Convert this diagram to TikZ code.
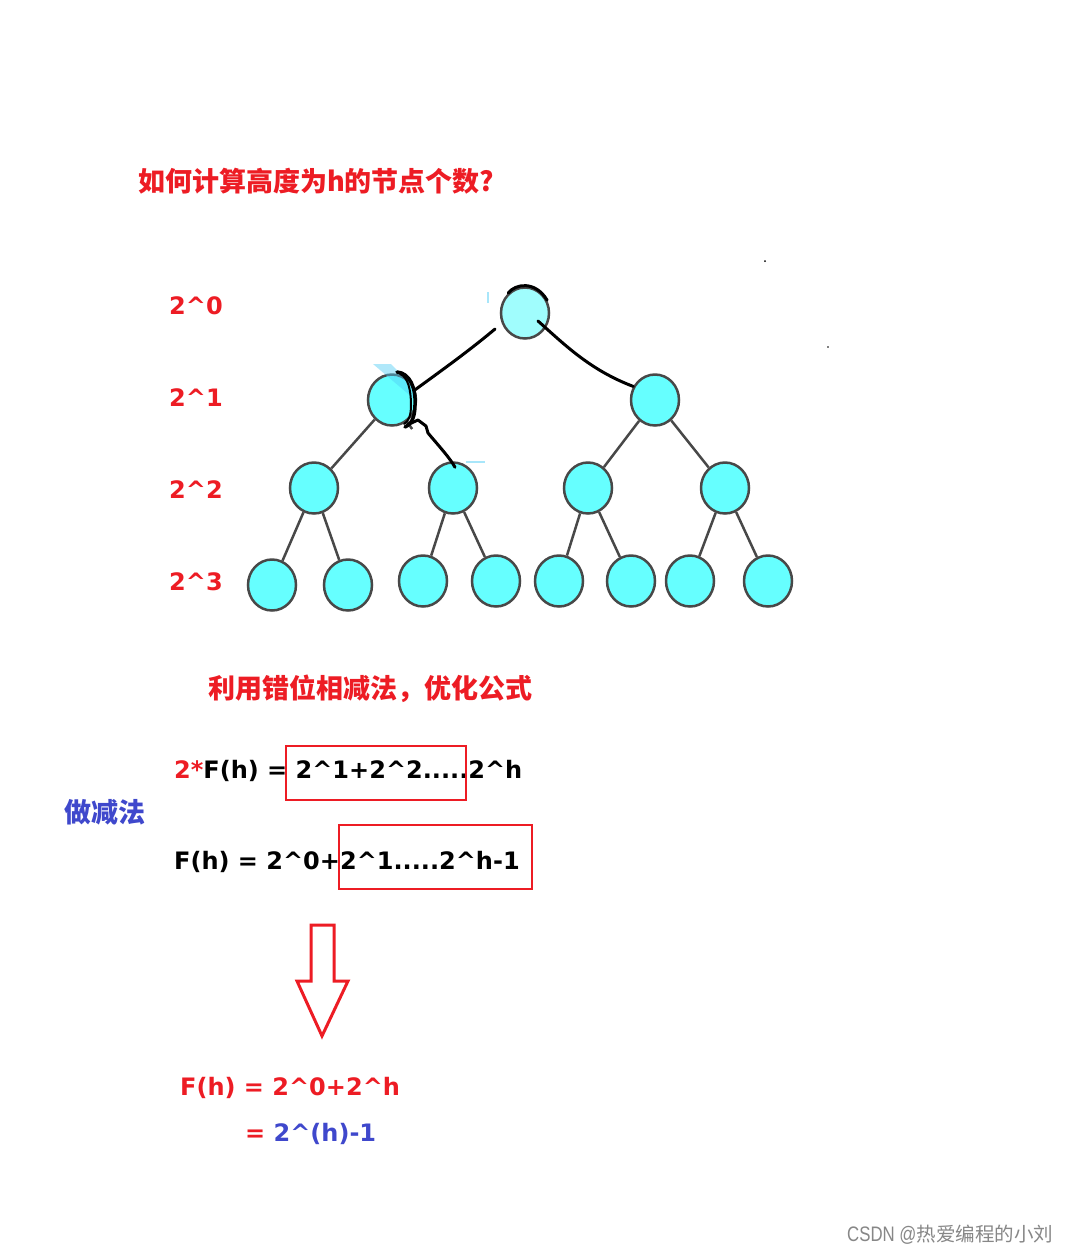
\documentclass[tikz,border=0pt]{standalone}
\usepackage{fontspec}
\setmainfont{DejaVu Sans}
\newfontfamily\cjk{Noto Sans CJK SC}
\newfontfamily\wmfont{Liberation Sans}[FakeStretch=0.8]
\usetikzlibrary{shapes.geometric,calc}
\definecolor{pred}{RGB}{237,28,36}
\definecolor{pblue}{RGB}{63,72,204}
\definecolor{cyanfill}{RGB}{102,255,255}
\definecolor{rootfill}{RGB}{160,253,253}
\definecolor{edgegray}{RGB}{72,72,72}
\definecolor{ltblue}{RGB}{80,205,245}
\definecolor{wmgray}{RGB}{135,135,135}
\newcommand\cc{\textasciicircum}
\begin{document}
\begin{tikzpicture}[x=1pt,y=-1pt,
  tnode/.style={ellipse, draw=edgegray, line width=2.5pt, fill=cyanfill,
    minimum width=48pt, minimum height=51pt, inner sep=0pt},
  edge/.style={draw=edgegray, line width=2.5pt},
  pen/.style={draw=black, line width=3pt, line cap=round, line join=round},
  lbl/.style={anchor=base west, inner sep=0pt, font=\fontsize{24}{28}\selectfont\bfseries, text=pred},
  cjkt/.style={anchor=base west, inner sep=0pt, font=\fontsize{27}{32}\selectfont\cjk\bfseries},
  redbox/.style={draw=pred, line width=2.5pt}
]
\useasboundingbox[fill=white] (0,0) rectangle (1073,1254);

% title
\node[cjkt, text=pred] (title) at (138,191) {如何计算高度为h的节点个数?};

% level labels
\node[lbl] (e0) at (169,314) {2\cc0};
\node[lbl] (e1) at (169,406) {2\cc1};
\node[lbl] (e2) at (169,498) {2\cc2};
\node[lbl] (e3) at (169,590) {2\cc3};

% tree nodes
\node[tnode, fill=rootfill] (root) at (525,313) {};
\node[tnode] (l1a) at (392,400) {};
\node[tnode] (l1b) at (655,400) {};
\node[tnode] (l2a) at (314,488) {};
\node[tnode] (l2b) at (453,488) {};
\node[tnode] (l2c) at (588,488) {};
\node[tnode] (l2d) at (725,488) {};
\node[tnode] (l3a) at (272,585) {};
\node[tnode] (l3b) at (348,585) {};
\node[tnode] (l3c) at (423,581) {};
\node[tnode] (l3d) at (496,581) {};
\node[tnode] (l3e) at (559,581) {};
\node[tnode] (l3f) at (631,581) {};
\node[tnode] (l3g) at (690,581) {};
\node[tnode] (l3h) at (768,581) {};

% gray edges
\draw[edge] (l1a) -- (l2a);
\draw[edge] (l1a) -- ($(l1a)!0.33!(l2b)$);
\draw[edge] (l1b) -- (l2c);
\draw[edge] (l1b) -- (l2d);
\draw[edge] (l2a) -- (l3a);
\draw[edge] (l2a) -- (l3b);
\draw[edge] (l2b) -- (l3c);
\draw[edge] (l2b) -- (l3d);
\draw[edge] (l2c) -- (l3e);
\draw[edge] (l2c) -- (l3f);
\draw[edge] (l2d) -- (l3g);
\draw[edge] (l2d) -- (l3h);

% light blue artefacts
\fill[ltblue, opacity=0.45] (373,364) -- (391,364) -- (413,386) -- (413,398) -- cycle;
\draw[ltblue!50, line width=1.5pt] (488,292) -- (488,303);
\draw[ltblue!50, line width=2pt] (466,462) -- (485,462);
\fill[black] (765,261) circle (1);
\fill[black] (828,347) circle (0.8);

% hand drawn strokes
\draw[pen] (root.130) .. controls (515,284) and (535,280) .. (root.30);
\draw[pen] ($(root.center)+(-30,16)$) .. controls (470,350) and (445,368) .. (l1a.24);
\draw[pen] ($(root.center)+(13,8)$) .. controls (565,345) and (590,370) .. (l1b.148);
\draw[pen, line width=3.5pt] (397,372) .. controls (410,373) and (416,388) .. (415,405)
  .. controls (415,416) and (412,424) .. (405,427);
\draw[pen, line width=2pt] (400,374) .. controls (408,377) and (411,390) .. (411,405)
  .. controls (411,415) and (409,421) .. (404,424);
\draw[pen] (407,425) -- (418,420) -- (426,426) -- (428,433)
  .. controls (438,445) and (450,458) .. ($(l2b.north)+(2,6)$);

% subtitle
\node[cjkt, text=pred] (sub) at (208,698) {利用错位相减法，优化公式};

% equations
\node[lbl, text=black] (eq1) at (174,778) {\textcolor{pred}{2*}F(h) = 2\cc1+2\cc2.....2\cc h};
\node[cjkt, text=pblue] (minus) at (64,822) {做减法};
\node[lbl, text=black] (eq2) at (174,869) {F(h) = 2\cc0+2\cc1.....2\cc h-1};
\draw[redbox] (286,746) rectangle (466,800);
\draw[redbox] (339,825) rectangle (532,889);

% hollow arrow
\draw[draw=pred, line width=3pt, line join=miter]
  (311,925) -- (334,925) -- (334,981) -- (348,981) -- (322,1036) -- (297,981) -- (311,981) -- cycle;

% result
\node[lbl] (res1) at (180,1095) {F(h) = 2\cc0+2\cc h};
\node[lbl] (res2) at (245,1141) {= \textcolor{pblue}{2\cc(h)-1}};

% watermark
\node[anchor=base west, inner sep=0pt, text=wmgray] (wm) at (847,1241)
  {\fontsize{21}{24}\selectfont\wmfont CSDN @\fontsize{19.5}{24}\selectfont\cjk 热爱编程的小刘};
\end{tikzpicture}
\end{document}
